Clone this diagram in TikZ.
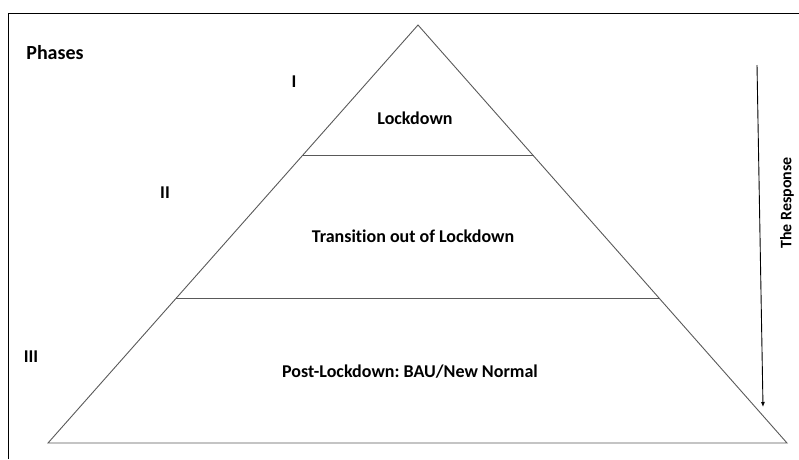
\documentclass[tikz,border=0pt]{standalone}
\usepackage{fontspec}
\setmainfont{Carlito}[Ligatures=NoCommon]
\usetikzlibrary{arrows.meta,calc}

\begin{document}
\frenchspacing
\begin{tikzpicture}[
x=1pt, y=-1pt,
side/.style={draw=black!65, line width=0.9pt},
label/.style={font=\fontsize{18}{21}\selectfont\bfseries, inner sep=0pt},
arrow/.style={-{Latex[length=5pt,width=4pt]}, line width=0.9pt}
]
\useasboundingbox (0,0) rectangle (799,459);
\draw[line width=1pt] (8,459) -- (8,13) -- (799,13);

\coordinate (apex) at (418,25);
\coordinate (bl) at (48,443);
\coordinate (br) at (787,443);
\draw[side] (apex) -- (bl) -- (br) -- cycle;

\coordinate (l1) at ($(apex)!0.313!(bl)$);
\coordinate (r1) at ($(apex)!0.313!(br)$);
\coordinate (l2) at ($(apex)!0.653!(bl)$);
\coordinate (r2) at ($(apex)!0.653!(br)$);
\draw[side] (l1) -- (r1);
\draw[side] (l2) -- (r2);

\node[label, font=\fontsize{20}{24}\selectfont\bfseries] (phases) at (55,53) {Phases};
\node[label] (p1) at (294,82) {I};
\node[label] (p2) at (165,193) {II};
\node[label] (p3) at (31,357) {III};

\node[label] (lock) at (415,118) {Lockdown};
\node[label] (trans) at (413,236) {Transition out of Lockdown};
\node[label] (post) at (410,372) {Post-Lockdown: BAU/New Normal};

\coordinate (atop) at (757,65);
\coordinate (abot) at (763,407);
\draw[arrow] (atop) -- (abot);
\node[label, font=\fontsize{16}{19}\selectfont\bfseries, rotate=90] (resp) at (787,203) {The Response};
\end{tikzpicture}
\end{document}
